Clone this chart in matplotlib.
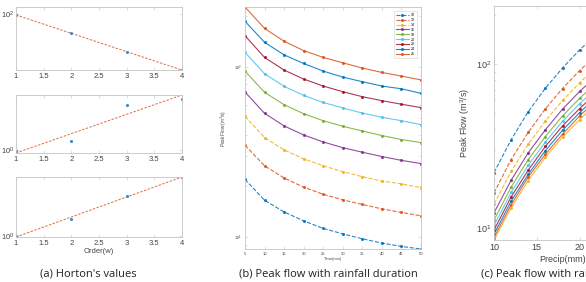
import matplotlib
matplotlib.use('Agg')
import matplotlib.pyplot as plt
import numpy as np

plt.rcParams['font.family'] = ['Liberation Sans', 'DejaVu Sans']
plt.rcParams['mathtext.fontset'] = 'custom'
plt.rcParams['mathtext.rm'] = 'Liberation Sans'

# ---------------------------------------------------------------
# datos
# ---------------------------------------------------------------
orden = [1, 2, 3, 4]
horton_sup = [95, 48, 23, 11.5]
horton_med = [0.97, 1.45, 6.3, 8.3]
horton_inf = [1.0, 1.9, 4.6, 9.3]

duracion = [5, 10, 15, 20, 25, 30, 35, 40, 45, 50]
precip = [10, 12, 14, 16, 18, 20, 22, 24, 26]

# caudal pico (m3/s) por precipitacion, en funcion de la duracion
q_p10 = [21.8, 16.4, 14.0, 12.4, 11.2, 10.4, 9.73, 9.18, 8.77, 8.47]
q_p12 = [34.6, 26.2, 22.2, 19.6, 17.8, 16.5, 15.5, 14.6, 13.9, 13.3]
q_p14 = [51.3, 38.4, 32.5, 28.8, 26.2, 24.2, 22.6, 21.3, 20.5, 19.5]
q_p16 = [71.3, 53.4, 45.0, 39.8, 36.2, 33.5, 31.5, 29.7, 28.2, 27.0]
q_p18 = [94.7, 71.0, 60.0, 53.1, 48.3, 44.8, 42.0, 39.5, 37.4, 35.9]
q_p20 = [122, 91.4, 77.0, 68.1, 61.9, 57.4, 53.6, 50.6, 48.3, 45.8]
q_p22 = [153, 114, 96.0, 85.0, 77.3, 71.6, 66.9, 63.4, 60.4, 57.7]
q_p24 = [186, 140, 118, 105, 94.7, 87.3, 82.0, 77.3, 74.5, 70.0]
q_p26 = [226, 169, 142, 125, 114, 106, 98.7, 93.0, 88.5, 84.0]

etiquetas_b = ['10', '12', '14', '16', '18', '20', '22', '24', '26']

colores = ['#0072BD', '#D95319', '#EDB120', '#7E2F8E', '#77AC30',
           '#4DBEEE', '#A2142F']

W, H = 586, 282
GRIS = '#c4c4c4'
TXT = '#444444'


def caja(x0, y0, x1, y1):
    return [x0 / W, 1 - y1 / H, (x1 - x0) / W, (y1 - y0) / H]


def estilo(ax, fs):
    for s in ax.spines.values():
        s.set_color(GRIS)
        s.set_linewidth(0.6)
    ax.tick_params(which='both', direction='in', top=True, right=True,
                   color=GRIS, width=0.4, labelcolor=TXT, labelsize=fs, pad=2)
    ax.tick_params(which='major', length=2.5)
    ax.tick_params(which='minor', length=1.3)


fig = plt.figure(figsize=(W / 100, H / 100), dpi=100)

# ---------------------------------------------------------------
# (a) valores de Horton
# ---------------------------------------------------------------
paneles_a = [(horton_sup, (7, 70), (1, 3.98)),
             (horton_med, (95, 153), (1, 4)),
             (horton_inf, (177, 237), (1, 4))]
for k, (vals, (yt, yb), xl) in enumerate(paneles_a):
    ax = fig.add_axes(caja(16, yt, 182, yb))
    c = np.polyfit(orden, np.log10(vals), 1)
    xf = np.array(xl)
    yf = 10 ** np.polyval(c, xf)
    ax.plot(xf, yf, '--', color='#D95319', lw=0.7, dashes=(2.5, 1.5), alpha=0.85)
    ax.plot(orden, vals, '.', color='#3a8fd0', ms=2.5)
    ax.set_yscale('log')
    ax.set_xlim(xl)
    if k == 0:
        ax.set_ylim(11.5, 130)
    else:
        ax.set_ylim(min(yf), max(yf))
    ax.set_xticks([1, 1.5, 2, 2.5, 3, 3.5, 4])
    ax.set_xticklabels(['1', '1.5', '2', '2.5', '3', '3.5', '4'])
    ax.yaxis.set_minor_locator(matplotlib.ticker.NullLocator())
    estilo(ax, 5.5)
    ax.tick_params(axis='y', pad=1)
    if k == 2:
        ax.set_xlabel('Order(w)', fontsize=5.5, color=TXT, labelpad=1)

fig.text(88 / W, 1 - 274 / H, "(a) Horton's values", ha='center', va='center',
         fontsize=8, family='Open Sans', color='#222222')

# ---------------------------------------------------------------
# (b) caudal pico vs duracion
# ---------------------------------------------------------------
series = [q_p10, q_p12, q_p14, q_p16, q_p18, q_p20, q_p22, q_p24, q_p26]
axb = fig.add_axes(caja(245, 7, 421, 249))
for i, q in enumerate(series):
    ls = '--' if i < 3 else '-'
    axb.plot(duracion, q, ls, color=colores[i % 7], lw=0.8, marker='.',
             ms=2.5, alpha=0.85, label=etiquetas_b[i])
axb.set_yscale('log')
axb.set_xlim(5, 50)
axb.set_ylim(8.47, 226)
axb.set_xticks(duracion)
estilo(axb, 3)
axb.set_xlabel('Time(min)', fontsize=3, color=TXT, labelpad=1)
axb.set_ylabel('Peak Flow (m$^3$/s)', fontsize=3.3, color=TXT, labelpad=4)
leg = axb.legend(loc='upper right', fontsize=2.6, handlelength=3.5,
                 labelspacing=0.25, borderpad=0.5, handletextpad=0.6,
                 bbox_to_anchor=(0.985, 0.99), fancybox=False)
leg.get_frame().set_edgecolor(GRIS)
leg.get_frame().set_linewidth(0.4)

fig.text(328 / W, 1 - 274 / H, '(b) Peak flow with rainfall duration',
         ha='center', va='center', fontsize=8, family='Open Sans',
         color='#222222')

# ---------------------------------------------------------------
# (c) caudal pico vs precipitacion
# ---------------------------------------------------------------
axc = fig.add_axes(caja(494, 6, 631, 240))
tabla = np.array(series)
for j in range(len(duracion)):
    ls = '--' if j < 3 else '-'
    axc.plot(precip, tabla[:, j], ls, color=colores[j % 7], lw=0.8,
             marker='.', ms=2.5, alpha=0.85)
axc.set_yscale('log')
axc.set_xlim(10, 26)
axc.set_ylim(8.47, 226)
axc.set_xticks([10, 15, 20, 25])
estilo(axc, 6.5)
axc.set_xlabel('Precip(mm)', fontsize=6.5, color=TXT, labelpad=2)
axc.set_ylabel('Peak Flow (m$^3$/s)', fontsize=6.5, color=TXT, labelpad=3)

fig.text(481 / W, 1 - 274 / H, '(c) Peak flow with rainfall depth',
         ha='left', va='center', fontsize=8, family='Open Sans',
         color='#222222')

fig.savefig('out.png', dpi=100)
